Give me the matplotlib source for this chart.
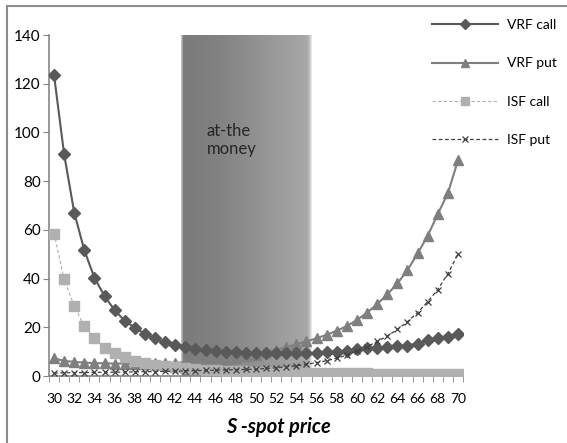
import matplotlib
matplotlib.use("Agg")
import matplotlib.pyplot as plt
from matplotlib.patches import Rectangle
from matplotlib.colors import LinearSegmentedColormap
import numpy as np

plt.rcParams['font.family'] = ['Lato', 'DejaVu Sans']

# spot prices 30..70
spot = list(range(30, 71))

vrf_call = [123.5, 91.0, 67.1, 51.6, 40.3, 32.8, 27.0, 22.7, 19.8, 17.3,
            15.4, 13.8, 12.8, 11.9, 11.0, 10.6, 10.1, 9.9, 9.7, 9.5,
            9.3, 9.3, 9.4, 9.3, 9.4, 9.3, 9.5, 9.7, 10.0, 10.4,
            10.9, 11.3, 11.5, 11.9, 12.2, 12.5, 13.3, 14.6, 15.8, 16.2, 17.2]
vrf_put = [7.2, 6.2, 5.8, 5.5, 5.3, 5.2, 5.1, 5.1, 5.1, 5.1,
           5.2, 5.3, 5.4, 5.6, 5.9, 6.2, 6.6, 7.0, 7.5, 8.1,
           8.8, 9.7, 10.8, 11.8, 13.0, 14.2, 15.5, 16.9, 18.6, 20.5,
           23.0, 26.0, 29.5, 33.5, 38.0, 43.4, 50.3, 57.5, 66.5, 75.0, 88.5]
isf_call = [58.5, 39.7, 28.7, 20.5, 15.4, 11.6, 9.3, 7.7, 6.1, 5.2,
            4.5, 4.0, 3.6, 3.2, 2.9, 2.6, 2.4, 2.2, 2.0, 1.9,
            1.8, 1.7, 1.6, 1.5, 1.4, 1.3, 1.2, 1.2, 1.1, 1.1,
            1.1, 1.1, 1.0, 1.0, 1.0, 1.0, 1.0, 1.0, 1.0, 1.0, 1.0]
isf_put = [1.2, 1.3, 1.4, 1.4, 1.5, 1.5, 1.6, 1.6, 1.7, 1.8,
           1.8, 1.9, 2.0, 2.1, 2.2, 2.3, 2.4, 2.5, 2.6, 2.7,
           2.8, 3.1, 3.4, 3.8, 4.2, 4.8, 5.5, 6.3, 7.3, 8.6,
           10.2, 12.0, 14.2, 16.4, 19.1, 22.3, 26.0, 30.5, 35.5, 42.0, 50.0]

atm_lo, atm_hi = 42.6, 55.55

fig = plt.figure(figsize=(5.67, 4.43), dpi=100)
ax = fig.add_axes([49/567, 1-376/443, (463-49)/567, (376-35)/443])

# chart area border (only left/top visible in the picture)
fig.patches.append(Rectangle((6.5/567, -0.1), 1.2, 1-5.5/443+0.1,
                             transform=fig.transFigure, fill=False,
                             edgecolor='#8c8c8c', linewidth=1.5))

# at-the-money band with horizontal gradient
cmap = LinearSegmentedColormap.from_list('band', [
    (0.0, '#c8c8c8'), (0.015, '#7b7b7b'), (0.3, '#828282'), (0.97, '#a8a8a8'),
    (0.985, '#c0c0c0'), (1.0, '#e8e8e8')])
grad = np.linspace(0, 1, 300).reshape(1, -1)
ax.imshow(grad, cmap=cmap, aspect='auto', extent=(atm_lo, atm_hi, 0, 140),
          zorder=1, interpolation='bilinear')
ax.text(45.1, 104, 'at-the\nmoney', fontsize=12, color='#262626',
        va='top', ha='left', linespacing=1.2, zorder=5)

ax.plot(spot, vrf_call, color='#595959', lw=1.5, marker='D', ms=6,
        label='VRF call', zorder=4)
ax.plot(spot, vrf_put, color='#7f7f7f', lw=1.5, marker='^', ms=7,
        label='VRF put', zorder=3)
ax.plot(spot, isf_call, color='#b0b0b0', lw=0.8, ls=(0, (3, 2)), marker='s',
        ms=6.5, label='ISF call', zorder=3)
ax.plot(spot, isf_put, color='#404040', lw=0.9, ls=(0, (3, 2)), marker='x',
        ms=5, mew=0.9, label='ISF put', zorder=4)

ax.set_xlim(29.5, 70.5)
ax.set_ylim(0, 140)
ax.set_yticks(range(0, 141, 20))
ax.set_xticks(range(30, 71, 2))
ax.set_xticks(np.arange(29.5, 70.6, 1), minor=True)
ax.tick_params(axis='x', which='major', length=0, pad=12, labelsize=10)
ax.tick_params(axis='x', which='minor', length=4, color='#868686', direction='out')
ax.tick_params(axis='y', length=4, color='#868686', labelsize=11, pad=2)
for s in ['top', 'right']:
    ax.spines[s].set_visible(False)
for s in ['left', 'bottom']:
    ax.spines[s].set_color('#868686')
    ax.spines[s].set_linewidth(1.2)

fig.text(278/567, 1-427/443, 'S -spot price', fontsize=14.5, fontweight='bold',
         fontstyle='italic', ha='center', va='center')

ax.legend(loc='upper left', bbox_to_anchor=(432/567, 1-19/443),
          bbox_transform=fig.transFigure, frameon=False, fontsize=10,
          borderpad=0, borderaxespad=0, handlelength=4.75, handletextpad=0.65,
          labelspacing=1.9, markerscale=0.85)

fig.savefig('out.png', dpi=100)
